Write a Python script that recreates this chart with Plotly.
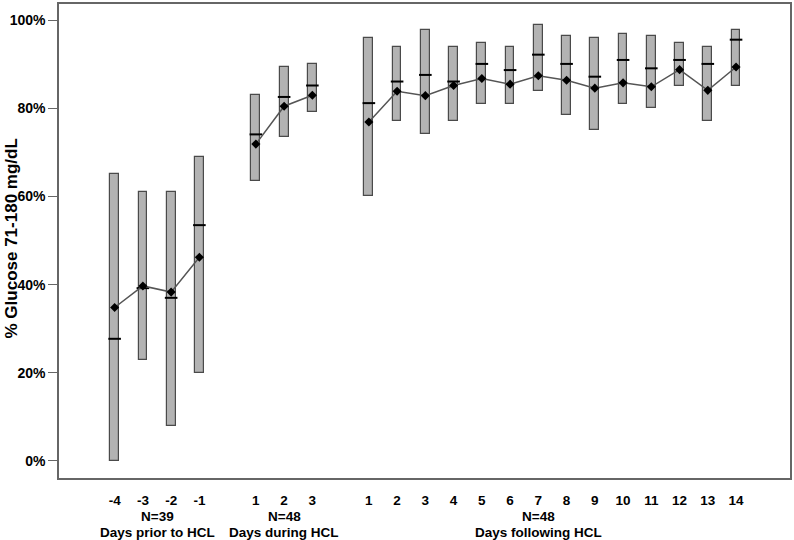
import numpy as np
import plotly.graph_objects as go

# ---- data ----
prior_days = ["-4", "-3", "-2", "-1"]
prior_q1 = [0.0, 23.0, 7.9, 20.0]
prior_q3 = [65.1, 61.0, 61.0, 69.0]
prior_median = [27.7, 39.2, 37.0, 53.5]
prior_mean = [34.8, 39.7, 38.3, 46.2]

during_days = ["1", "2", "3"]
during_q1 = [63.6, 73.5, 79.1]
during_q3 = [83.0, 89.5, 90.0]
during_median = [74.1, 82.6, 85.2]
during_mean = [71.9, 80.5, 83.0]

following_days = [str(d) for d in range(1, 15)]
following_q1 = [60.2, 77.1, 74.1, 77.1, 81.1, 81.1, 84.0, 78.5, 75.1, 81.1, 80.1, 85.2, 77.1, 85.2]
following_q3 = [95.9, 94.0, 97.9, 94.0, 94.9, 94.0, 99.0, 96.5, 96.0, 96.9, 96.5, 94.9, 94.0, 97.9]
following_median = [81.2, 86.1, 87.6, 86.1, 90.1, 88.7, 92.2, 90.1, 87.2, 91.0, 89.1, 91.0, 90.1, 95.6]
following_mean = [76.9, 83.9, 82.9, 85.2, 86.8, 85.5, 87.4, 86.4, 84.6, 85.8, 84.9, 88.8, 84.1, 89.4]

group_n = ["N=39", "N=48", "N=48"]
group_names = ["Days prior to HCL", "Days during HCL", "Days following HCL"]
y_ticks = [0, 20, 40, 60, 80, 100]

# ---- layout helpers ----
groups = [
    (prior_days, prior_q1, prior_q3, prior_median, prior_mean),
    (during_days, during_q1, during_q3, during_median, during_mean),
    (following_days, following_q1, following_q3, following_median, following_mean),
]
offsets = [0, 5, 9]
label_anchor = [1.5, 6, 15]

FONT = "Liberation Sans, Arial, sans-serif"
BOX_FILL = "#b3b3b3"
BOX_LINE = "#4a4a4a"
TXT = 13.5

fig = go.Figure()
tickvals, ticktext = [], []
for (days, q1, q3, med, mean), off in zip(groups, offsets):
    x = off + np.arange(len(days))
    tickvals += list(x)
    ticktext += days
    q1a, q3a = np.array(q1), np.array(q3)
    fig.add_trace(go.Bar(
        x=x, y=q3a - q1a, base=q1a, width=0.31,
        marker=dict(color=BOX_FILL, line=dict(color=BOX_LINE, width=1.2)),
        hoverinfo="skip", showlegend=False,
    ))
    fig.add_trace(go.Scatter(
        x=x, y=med, mode="markers",
        marker=dict(symbol="line-ew-open", size=9, color="black",
                    line=dict(color="black", width=2)),
        showlegend=False, hoverinfo="skip",
    ))
    fig.add_trace(go.Scatter(
        x=x, y=mean, mode="lines+markers",
        line=dict(color="#555555", width=1.5),
        marker=dict(symbol="diamond", size=7, color="black"),
        showlegend=False,
    ))

for n, name, pos in zip(group_n, group_names, label_anchor):
    fig.add_annotation(x=pos, y=-0.081, xref="x", yref="paper", text=n,
                       showarrow=False, yanchor="middle",
                       font=dict(family=FONT, size=TXT, color="black", weight="bold"))
    fig.add_annotation(x=pos, y=-0.1145, xref="x", yref="paper", text=name,
                       showarrow=False, yanchor="middle",
                       font=dict(family=FONT, size=TXT, color="black", weight="bold"))

fig.add_annotation(x=-0.0645, y=0.505, xref="paper", yref="paper",
                   text="% Glucose 71-180 mg/dL", textangle=-90, showarrow=False,
                   xanchor="center", yanchor="middle",
                   font=dict(family=FONT, size=17, color="black", weight="bold"))

fig.update_layout(
    width=794, height=540,
    margin=dict(l=59, r=2, t=2, b=62),
    paper_bgcolor="white", plot_bgcolor="white",
    barmode="overlay", bargap=0,
    xaxis=dict(
        range=[-1.97, 23.91], tickvals=tickvals, ticktext=ticktext,
        ticks="outside", ticklen=9, tickcolor="rgba(0,0,0,0)",
        showgrid=False, zeroline=False,
        showline=True, mirror=True, linecolor="#666666", linewidth=1.5,
        tickfont=dict(family=FONT, size=TXT, color="black", weight="bold"),
    ),
    yaxis=dict(
        range=[-3.9, 103.7], tickvals=y_ticks, ticktext=[f"{v}%" for v in y_ticks],
        ticks="outside", ticklen=9, tickcolor="#666666", tickwidth=1.2,
        showgrid=False, zeroline=False,
        showline=True, mirror=True, linecolor="#666666", linewidth=1.5,
        tickfont=dict(family=FONT, size=14, color="black", weight="bold"),
    ),
)

fig.write_html("out.html", config={"displayModeBar": False},
               post_script="document.body.style.margin='0px';")
